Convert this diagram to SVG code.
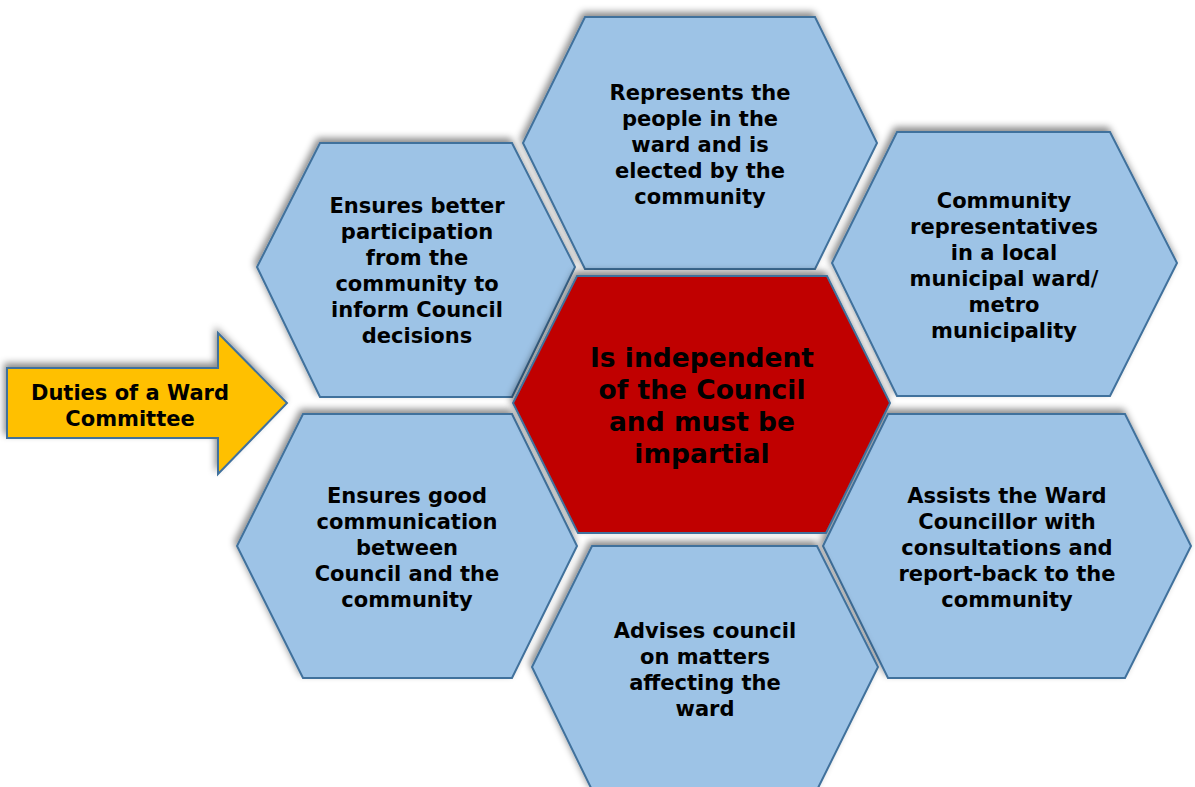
<svg xmlns="http://www.w3.org/2000/svg" width="1195" height="787" viewBox="0 0 1195 787">
<defs>
<filter id="sh" x="-10%" y="-10%" width="120%" height="120%">
<feDropShadow dx="-2" dy="-4" stdDeviation="3.5" flood-color="#000" flood-opacity="0.45"/>
</filter>
<style>
.hex{fill:#9DC3E6;stroke:#41719C;stroke-width:2;filter:url(#sh)}
.ctr{fill:#C00000;stroke:#41719C;stroke-width:2;filter:url(#sh)}
.arr{fill:#FFC000;stroke:#41719C;stroke-width:2;filter:url(#sh)}
.t{font-family:Verdana,"DejaVu Sans",sans-serif;font-weight:bold;font-size:21px;fill:#000;text-anchor:middle}
.tc{font-family:Verdana,"DejaVu Sans",sans-serif;font-weight:bold;font-size:26.5px;fill:#000;text-anchor:middle}
</style>
</defs>
<rect width="1195" height="787" fill="#fff"/>
<g id="connectors"/>
<g id="arrow">
<polygon class="arr" points="7,368 218,368 218,333 287,403 218,474 218,438 7,438"/>
<text class="t" x="130" y="400">Duties of a Ward</text>
<text class="t" x="130" y="426">Committee</text>
</g>
<g id="hex-top">
<polygon class="hex" points="585,17 815,17 877,143 815,269 585,269 523,143"/>
<text class="t" x="700" y="100">Represents the</text>
<text class="t" x="700" y="126">people in the</text>
<text class="t" x="700" y="152">ward and is</text>
<text class="t" x="700" y="178">elected by the</text>
<text class="t" x="700" y="204">community</text>
</g>
<g id="hex-upper-left">
<polygon class="hex" points="320,143 512,143 575,267 512,397 320,397 257,267"/>
<text class="t" x="417" y="213">Ensures better</text>
<text class="t" x="417" y="239">participation</text>
<text class="t" x="417" y="265">from the</text>
<text class="t" x="417" y="291">community to</text>
<text class="t" x="417" y="317">inform Council</text>
<text class="t" x="417" y="343">decisions</text>
</g>
<g id="hex-upper-right">
<polygon class="hex" points="897,132 1110,132 1177,263 1110,396 897,396 832,263"/>
<text class="t" x="1004" y="208">Community</text>
<text class="t" x="1004" y="234">representatives</text>
<text class="t" x="1004" y="260">in a local</text>
<text class="t" x="1004" y="286">municipal ward/</text>
<text class="t" x="1004" y="312">metro</text>
<text class="t" x="1004" y="338">municipality</text>
</g>
<g id="hex-lower-left">
<polygon class="hex" points="303,414 512,414 577,546 512,678 303,678 237,546"/>
<text class="t" x="407" y="503">Ensures good</text>
<text class="t" x="407" y="529">communication</text>
<text class="t" x="407" y="555">between</text>
<text class="t" x="407" y="581">Council and the</text>
<text class="t" x="407" y="607">community</text>
</g>
<g id="hex-lower-right">
<polygon class="hex" points="888,414 1125,414 1191,546 1125,678 888,678 823,546"/>
<text class="t" x="1007" y="503">Assists the Ward</text>
<text class="t" x="1007" y="529">Councillor with</text>
<text class="t" x="1007" y="555">consultations and</text>
<text class="t" x="1007" y="581">report-back to the</text>
<text class="t" x="1007" y="607">community</text>
</g>
<g id="hex-bottom">
<polygon class="hex" points="592,546 817,546 878,667 817,790 592,790 532,667"/>
<text class="t" x="705" y="638">Advises council</text>
<text class="t" x="705" y="664">on matters</text>
<text class="t" x="705" y="690">affecting the</text>
<text class="t" x="705" y="716">ward</text>
</g>
<g id="hex-center">
<polygon class="ctr" points="577,276 827,276 890,403 826,533 578,533 513,403"/>
<text class="tc" x="702" y="367">Is independent</text>
<text class="tc" x="702" y="399">of the Council</text>
<text class="tc" x="702" y="431">and must be</text>
<text class="tc" x="702" y="463">impartial</text>
</g>
</svg>
